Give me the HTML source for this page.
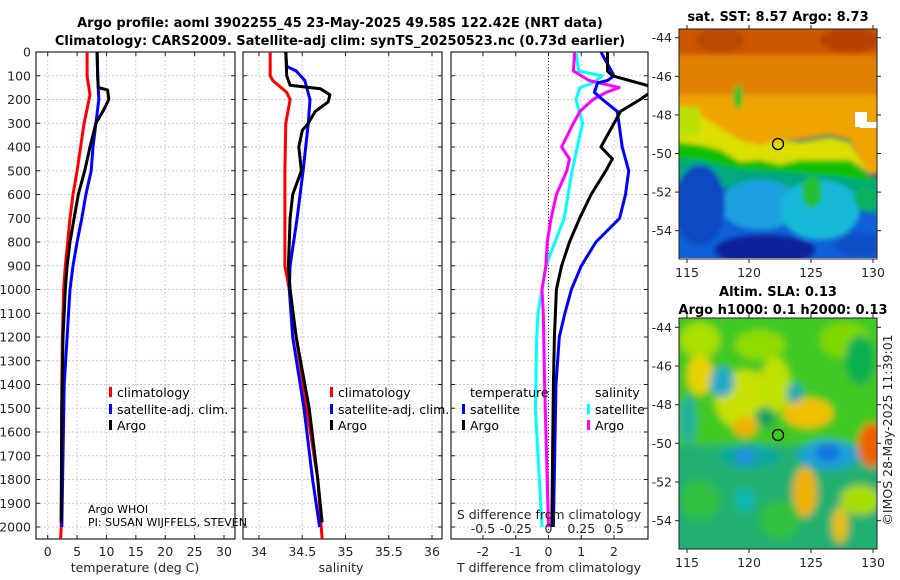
<!DOCTYPE html>
<html><head><meta charset="utf-8">
<style>
html,body{margin:0;padding:0;background:#fff;}
svg{display:block;font-family:"DejaVu Sans","Liberation Sans",sans-serif;}
.tk{font-size:12.5px;fill:#262626;}
.tt{font-size:13px;font-weight:bold;fill:#000;}
.lg{font-size:12.5px;fill:#000;}
</style></head><body>
<svg id="chart" width="900" height="580" viewBox="0 0 900 580">
<defs>
<filter id="bl" x="-20%" y="-20%" width="140%" height="140%"><feGaussianBlur stdDeviation="4"/></filter>
<filter id="bl2" x="-20%" y="-20%" width="140%" height="140%"><feGaussianBlur stdDeviation="2.5"/></filter>
<clipPath id="cm1"><rect x="679" y="29" width="198" height="230"/></clipPath>
<clipPath id="cm2"><rect x="679" y="318" width="198" height="231"/></clipPath>
<clipPath id="cp1"><rect x="36" y="52" width="199" height="487"/></clipPath>
<clipPath id="cp2"><rect x="243" y="52" width="199" height="487"/></clipPath>
<clipPath id="cp3"><rect x="451" y="52" width="197" height="487"/></clipPath>
</defs>
<text class="tt" x="340" y="27" text-anchor="middle">Argo profile: aoml 3902255_45 23-May-2025 49.58S 122.42E (NRT data)</text>
<text class="tt" x="340" y="45" text-anchor="middle">Climatology: CARS2009. Satellite-adj clim: synTS_20250523.nc (0.73d earlier)</text>
<g id="panels"></g>
<g id="maps">
<text class="tt" x="778" y="21" text-anchor="middle">sat. SST: 8.57 Argo: 8.73</text>
<g clip-path="url(#cm1)">
<rect x="679" y="29" width="198" height="234" fill="#1060d8"/>
<g filter="url(#bl2)">
<rect x="660" y="10" width="240" height="50" fill="#cc5800"/>
<rect x="660" y="55" width="240" height="45" fill="#e08000"/>
<polygon points="660,95 900,95 900,170 870,175 860,160 850,140 830,135 800,140 780,140 760,145 740,140 720,130 700,115 660,105" fill="#f0a400"/>
<polygon points="660,105 700,115 720,128 740,140 760,145 780,140 800,142 830,137 850,142 860,160 870,175 850,160 830,160 800,160 780,165 760,160 740,162 720,150 700,145 660,140" fill="#dcde00"/>
<polygon points="660,105 700,108 700,135 660,140" fill="#b8e000"/>
<polygon points="660,140 700,145 720,150 740,162 760,160 780,165 800,160 830,160 850,160 870,178 900,180 900,190 860,180 820,175 780,172 740,170 700,160 660,158" fill="#10c000"/>
<polygon points="660,158 700,160 740,170 780,172 820,175 860,180 900,190 900,220 860,210 820,205 780,200 740,190 700,185 660,178" fill="#00a880"/>
<ellipse cx="760" cy="205" rx="40" ry="25" fill="#1ca0e0"/>
<ellipse cx="820" cy="210" rx="40" ry="30" fill="#18b8d8"/>
<ellipse cx="812" cy="192" rx="10" ry="16" fill="#20c030"/>
<ellipse cx="866" cy="198" rx="12" ry="12" fill="#10b060"/>
<ellipse cx="700" cy="205" rx="25" ry="40" fill="#0a48c0"/>
<ellipse cx="765" cy="250" rx="50" ry="15" fill="#082098"/>
<ellipse cx="860" cy="245" rx="25" ry="12" fill="#0a50c8"/>
<ellipse cx="738" cy="97" rx="5" ry="12" fill="#40c020"/>
<ellipse cx="720" cy="40" rx="25" ry="12" fill="#b84800"/>
<ellipse cx="850" cy="40" rx="30" ry="12" fill="#b84000"/>
</g>
<rect x="679" y="258" width="198" height="5" fill="#fff"/>
<rect x="855" y="112" width="12" height="15" fill="#fff"/><rect x="860" y="122" width="17" height="6" fill="#fff"/>
</g>
<rect x="679" y="29" width="198" height="230" fill="none" stroke="#222" stroke-width="1"/>
<circle cx="778" cy="144" r="5.5" fill="none" stroke="#000" stroke-width="1.3"/>
<text class="tt" x="778" y="296" text-anchor="middle">Altim. SLA: 0.13</text>
<text class="tt" x="783" y="314" text-anchor="middle">Argo h1000: 0.1 h2000: 0.13</text>
<g clip-path="url(#cm2)">
<rect x="679" y="318" width="198" height="231" fill="#10b840"/>
<g filter="url(#bl)">
<rect x="660" y="300" width="240" height="150" fill="#40c820"/>
<ellipse cx="700" cy="340" rx="20" ry="18" fill="#a8e000"/>
<ellipse cx="760" cy="345" rx="25" ry="15" fill="#90dc00"/>
<ellipse cx="845" cy="340" rx="25" ry="18" fill="#80d800"/>
<ellipse cx="700" cy="375" rx="13" ry="20" fill="#e8d000"/>
<ellipse cx="745" cy="400" rx="30" ry="30" fill="#c8e000"/>
<ellipse cx="775" cy="385" rx="15" ry="28" fill="#c0e000"/>
<ellipse cx="808" cy="413" rx="25" ry="15" fill="#f0c000"/>
<ellipse cx="745" cy="427" rx="12" ry="10" fill="#f0b000"/>
<ellipse cx="722" cy="382" rx="12" ry="15" fill="#20a8c8"/>
<ellipse cx="795" cy="393" rx="8" ry="10" fill="#20a8b0"/>
<ellipse cx="765" cy="417" rx="10" ry="10" fill="#10a060"/>
<rect x="660" y="445" width="240" height="110" fill="#20b070"/>
<ellipse cx="750" cy="456" rx="30" ry="12" fill="#10a8a0"/>
<ellipse cx="745" cy="457" rx="10" ry="8" fill="#2090e0"/>
<ellipse cx="828" cy="455" rx="30" ry="15" fill="#1aa0d8"/>
<ellipse cx="828" cy="453" rx="12" ry="8" fill="#1870e0"/>
<ellipse cx="872" cy="445" rx="14" ry="22" fill="#f06000"/>
<ellipse cx="805" cy="492" rx="12" ry="25" fill="#f0b000"/>
<ellipse cx="840" cy="525" rx="8" ry="18" fill="#e8c000"/>
<ellipse cx="745" cy="500" rx="10" ry="12" fill="#10b8b0"/>
<ellipse cx="700" cy="500" rx="20" ry="20" fill="#30c040"/>
<ellipse cx="780" cy="520" rx="20" ry="20" fill="#30c040"/>
<ellipse cx="860" cy="360" rx="15" ry="25" fill="#10b050"/>
<ellipse cx="688" cy="420" rx="8" ry="25" fill="#20b0a0"/>
<ellipse cx="860" cy="500" rx="20" ry="15" fill="#a8dc00"/>
</g>
</g>
<rect x="679" y="318" width="198" height="231" fill="none" stroke="#222" stroke-width="1"/>
<circle cx="778" cy="435" r="5.5" fill="none" stroke="#000" stroke-width="1.3"/>
<text class="tk" transform="translate(892,430) rotate(-90)" text-anchor="middle">©IMOS 28-May-2025 11:39:01</text>
</g>
</svg>
<script>
// ---- data ----
const tempDepth  = [0,100,180,300,400,500,600,700,800,900,1000,1200,1400,2000,2050];
const tempClim   = [6.7,6.7,7.2,6.2,5.6,5.0,4.3,3.8,3.4,3.0,2.7,2.5,2.4,2.3,2.2];
const satDepth   = [0,100,200,300,400,500,600,700,800,900,1000,1200,1400,2000];
const tempSat    = [8.4,8.5,8.7,8.2,7.7,7.4,6.5,5.8,5.0,4.3,3.8,3.3,2.8,2.4];
const argoDepth  = [0,100,150,160,200,250,300,400,500,600,700,800,900,1000,1200,1500,1980];
const tempArgo   = [8.4,8.5,8.6,10.2,10.4,9.4,8.2,7.2,6.3,5.2,4.5,3.8,3.3,3.0,2.6,2.4,2.3];
const salClimDepth=[0,100,120,170,200,300,500,900,1000,1200,1500,1800,2050];
const salClim    = [34.13,34.13,34.16,34.32,34.36,34.31,34.30,34.30,34.35,34.43,34.55,34.68,34.73];
const salSatDepth= [0,60,80,120,200,300,500,700,900,1000,1200,1500,1800,2000];
const salSat     = [34.31,34.32,34.43,34.53,34.59,34.57,34.51,34.44,34.36,34.35,34.39,34.52,34.62,34.70];
const salArgoDepth=[0,100,140,155,180,210,250,300,330,400,500,600,700,800,900,1000,1200,1500,1800,1980];
const salArgo    = [34.31,34.32,34.36,34.71,34.82,34.80,34.65,34.57,34.50,34.46,34.49,34.39,34.36,34.35,34.34,34.36,34.43,34.58,34.68,34.73];
const dTSatDepth = [0,100,120,130,170,200,250,400,500,600,700,800,900,1000,1100,1200,1400,2000];
const dTSat      = [1.6,2.0,1.8,1.5,1.4,1.65,2.1,2.25,2.45,2.35,2.17,1.45,1.0,0.7,0.5,0.33,0.23,0.15];
const dTArgoDepth= [0,80,100,140,160,180,200,250,300,400,450,500,600,700,800,900,1000,1200,1400,2000];
const dTArgo     = [1.8,1.8,1.95,3.0,3.2,3.0,2.8,2.2,2.0,1.6,1.95,1.75,1.3,0.95,0.64,0.4,0.24,0.18,0.15,0.1];
const dSSatDepth = [0,80,100,130,150,200,300,400,500,600,700,800,900,1000,1100,1200,1500,2000];
const dSSat      = [0.21,0.23,0.41,0.34,0.24,0.21,0.26,0.22,0.18,0.15,0.12,0.05,-0.02,-0.05,-0.08,-0.09,-0.1,-0.05];
const dSArgoDepth= [0,80,120,150,170,200,250,300,400,450,500,600,700,800,900,1000,1100,1400,2000];
const dSArgo     = [0.2,0.19,0.31,0.54,0.44,0.34,0.24,0.19,0.1,0.16,0.14,0.06,0.02,-0.01,-0.02,-0.05,-0.04,-0.03,0];
const depthTicks = [0,100,200,300,400,500,600,700,800,900,1000,1100,1200,1300,1400,1500,1600,1700,1800,1900,2000];
const tTicks     = [0,5,10,15,20,25,30];
const sTicks     = [34,34.5,35,35.5,36];
const dTTicks    = [-2,-1,0,1,2];
const dSTicks    = [-0.5,-0.25,0,0.25,0.5];
const dSTickLabels=["-0.5","-0.25","0","0.25","0.5"];
// ---- helpers ----
const NS="http://www.w3.org/2000/svg";
const root=document.getElementById('panels');
const TOP=52,BOT=539;
const yD=d=>TOP+d*0.2375;
function mk(tag,attrs,parent){const e=document.createElementNS(NS,tag);for(const k in attrs)e.setAttribute(k,attrs[k]);(parent||root).appendChild(e);return e;}
function scale(d0,d1,p0,p1){return v=>p0+(v-d0)/(d1-d0)*(p1-p0);}
function frame(x0,x1,name,xs,xticks,labels){
  const g=mk('g',{});
  
  
  depthTicks.forEach(d=>{const l=mk('line',{x1:x0,x2:x1,y1:yD(d),y2:yD(d),stroke:'#c4c8ee','stroke-width':1,'stroke-dasharray':'2,2'},g);
    
    
    mk('line',{x1:x0,x2:x0+4,y1:yD(d),y2:yD(d),stroke:'#222'},g);mk('line',{x1:x1-4,x2:x1,y1:yD(d),y2:yD(d),stroke:'#222'},g);});
  xticks.forEach((t,i)=>{const x=xs(t);const l=mk('line',{x1:x,x2:x,y1:TOP,y2:BOT,stroke:'#d8c8d8','stroke-width':1,'stroke-dasharray':'2,2'},g);
    
    
    mk('line',{x1:x,x2:x,y1:BOT-4,y2:BOT,stroke:'#222'},g);mk('line',{x1:x,x2:x,y1:TOP,y2:TOP+4,stroke:'#222'},g);
    if(labels){const tx=mk('text',{x:x,y:556,class:'tk','text-anchor':'middle'},g);tx.textContent=labels[i];
      
      }});
  const r=mk('rect',{x:x0,y:TOP,width:x1-x0,height:BOT-TOP,fill:'none',stroke:'#222','stroke-width':1.2},g);
  
  
  return g;
}
function line(depths,vals,xs,color,clip,name,w){
  const pts=depths.map((d,i)=>xs(vals[i]).toFixed(1)+','+yD(d).toFixed(1)).join(' ');
  const p=mk('polyline',{points:pts,fill:'none',stroke:color,'stroke-width':w||3,'stroke-linejoin':'round','clip-path':'url(#'+clip+')'});
  
  
}
function txt(x,y,s,cls,name,anchor){const t=mk('text',{x:x,y:y,class:cls,'text-anchor':anchor||'start'});t.textContent=s;
  
  return t;}
function legItem(x,y,color,label,name){
  const r=mk('rect',{x:x,y:y-10,width:3,height:10,fill:color});
  
  
  txt(x+8,y,label,'lg',name);
}
depthTicks.forEach(d=>{txt(31,yD(d)+4.5,String(d),'tk','y-tick-label','end');});
const xT=scale(0,30,47.7,224);
frame(36,235,'temperature-panel',xT,tTicks,tTicks.map(String));
line(tempDepth,tempClim,xT,'#ff0000','cp1','temp-climatology-line');
line(satDepth,tempSat,xT,'#0000ff','cp1','temp-satellite-line');
line(argoDepth,tempArgo,xT,'#000000','cp1','temp-argo-line');
txt(135,572,'temperature (deg C)','tk','temperature-axis-title','middle');
legItem(109,397,'#ff0000','climatology','legend-climatology');
legItem(109,414,'#0000ff','satellite-adj. clim.','legend-satellite');
legItem(109,430,'#000','Argo','legend-argo');
txt(88,513,'Argo WHOI','lg','argo-institution').setAttribute('style','font-size:11px');
txt(88,526,'PI: SUSAN WIJFFELS, STEVEN','lg','argo-pi').setAttribute('style','font-size:11px');
const xS=scale(34,36,259,432);
frame(243,442,'salinity-panel',xS,sTicks,sTicks.map(String));
line(salClimDepth,salClim,xS,'#ff0000','cp2','sal-climatology-line');
line(salSatDepth,salSat,xS,'#0000ff','cp2','sal-satellite-line');
line(salArgoDepth,salArgo,xS,'#000000','cp2','sal-argo-line');
txt(341,572,'salinity','tk','salinity-axis-title','middle');
legItem(330,397,'#ff0000','climatology','legend-sal-climatology');
legItem(330,414,'#0000ff','satellite-adj. clim.','legend-sal-satellite');
legItem(330,430,'#000','Argo','legend-sal-argo');
const xDT=scale(-2,2,483,614);
const xDS=v=>xDT(v*4);
frame(451,648,'difference-panel',xDT,dTTicks,dTTicks.map(String));
const z=mk('line',{x1:xDT(0),x2:xDT(0),y1:TOP,y2:BOT,stroke:'#334',"stroke-width":1,'stroke-dasharray':'1,2'});


line(dSSatDepth,dSSat,xDS,'#00ffff','cp3','sdiff-satellite-line');
line(dSArgoDepth,dSArgo,xDS,'#ff00ff','cp3','sdiff-argo-line');
line(dTSatDepth,dTSat,xDT,'#0000ff','cp3','tdiff-satellite-line');
line(dTArgoDepth,dTArgo,xDT,'#000000','cp3','tdiff-argo-line');
dSTicks.forEach((t,i)=>{txt(xDS(t),533,dSTickLabels[i],'tk','s-diff-tick-label','middle');});
txt(549,519,'S difference from climatology','tk','s-diff-axis-title','middle');
txt(549,572,'T difference from climatology','tk','t-diff-axis-title','middle');
txt(470,397,'temperature','lg','legend-temp-heading');
legItem(462,414,'#0000ff','satellite','legend-tdiff-satellite');
legItem(462,430,'#000','Argo','legend-tdiff-argo');
txt(595,397,'salinity','lg','legend-sal-heading');
legItem(587,414,'#00ffff','satellite','legend-sdiff-satellite');
legItem(587,430,'#ff00ff','Argo','legend-sdiff-argo');
const mapG=document.getElementById('maps');
function mapAxes(top,bot,lat44,lat54){
  const lx=scale(115,130,687,873), ly=scale(-44,-54,lat44,lat54);
  [115,120,125,130].forEach(v=>{const t=mk('text',{x:lx(v),y:bot+18,class:'tk','text-anchor':'middle'},mapG);t.textContent=String(v);
    
    
    mk('line',{x1:lx(v),x2:lx(v),y1:bot,y2:bot+4,stroke:'#222'},mapG);mk('line',{x1:lx(v),x2:lx(v),y1:top-4,y2:top,stroke:'#222'},mapG);});
  [-44,-46,-48,-50,-52,-54].forEach(v=>{const t=mk('text',{x:672,y:ly(v)+4.5,class:'tk','text-anchor':'end'},mapG);t.textContent=String(v);
    
    
    mk('line',{x1:675,x2:679,y1:ly(v),y2:ly(v),stroke:'#222'},mapG);mk('line',{x1:877,x2:881,y1:ly(v),y2:ly(v),stroke:'#222'},mapG);});
}
mapAxes(29,259,37.7,230.7);
mapAxes(318,549,327.3,520.7);
</script>
</body></html>
